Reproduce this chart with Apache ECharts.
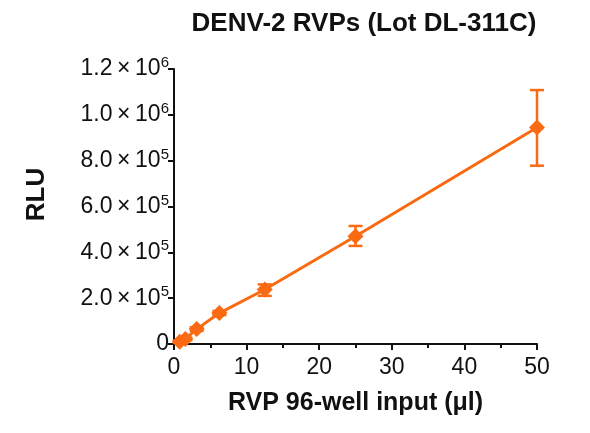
<!DOCTYPE html>
<html>
<head>
<meta charset="utf-8">
<script src="https://cdn.jsdelivr.net/npm/echarts@6/dist/echarts.min.js"></script>
<style>
  html, body { margin: 0; padding: 0; background: #fff; }
  #chart { width: 590px; height: 433px; }
</style>
</head>
<body>
<div id="chart"></div>
<script>
// RVP input volume (ul) and measured luminescence
const inputVolumes = [0.78, 1.56, 3.125, 6.25, 12.5, 25, 50];
const rluMean = [10000, 22000, 65000, 135000, 238000, 470000, 945000];
const rluLow = [6000, 16000, 57000, 126000, 210000, 428000, 778000];
const rluHigh = [14000, 28000, 73000, 144000, 260000, 515000, 1108000];

// y tick labels: value -> [mantissa, exponent]
const yTickValues = [0, 200000, 400000, 600000, 800000, 1000000, 1200000];
const yTickLabels = [['0', ''], ['2.0', '5'], ['4.0', '5'], ['6.0', '5'], ['8.0', '5'], ['1.0', '6'], ['1.2', '6']];
const xTickValues = [0, 10, 20, 30, 40, 50];

const orange = '#fa6a12';
const font = 'Liberation Sans, Arial, sans-serif';

const chart = echarts.init(document.getElementById('chart'));

const pointData = inputVolumes.map((x, i) => [x, rluMean[i]]);
const errData = inputVolumes.map((x, i) => [x, rluLow[i], rluHigh[i]]);

function renderErr(params, api) {
    const lo = api.coord([api.value(0), api.value(1)]);
    const hi = api.coord([api.value(0), api.value(2)]);
    const w = 7;
    const st = { stroke: orange, lineWidth: 2.5 };
    return {
        type: 'group',
        children: [
            { type: 'line', shape: { x1: lo[0], y1: lo[1], x2: hi[0], y2: hi[1] }, style: st },
            { type: 'line', shape: { x1: hi[0] - w, y1: hi[1], x2: hi[0] + w, y2: hi[1] }, style: st },
            { type: 'line', shape: { x1: lo[0] - w, y1: lo[1], x2: lo[0] + w, y2: lo[1] }, style: st }
        ]
    };
}

const option = {
    animation: false,
    title: {
        text: 'DENV-2 RVPs (Lot DL-311C)',
        left: 359,
        textAlign: 'center',
        top: 6,
        textStyle: { fontFamily: font, fontSize: 26, fontWeight: 'bold', color: '#111' }
    },
    grid: { left: 174, right: 53, top: 69, bottom: 89, containLabel: false },
    xAxis: {
        type: 'value',
        min: 0,
        max: 50,
        interval: 10,
        name: 'RVP 96-well input (\u03bcl)',
        nameLocation: 'middle',
        nameGap: 47,
        nameTextStyle: { fontFamily: font, fontSize: 25, fontWeight: 'bold', color: '#111' },
        axisLine: { show: true, onZero: false, lineStyle: { color: '#111', width: 2 } },
        axisTick: { show: true, length: 6, lineStyle: { color: '#111', width: 2 } },
        minorTick: { show: true, splitNumber: 2, length: 4, lineStyle: { color: '#111', width: 2 } },
        splitLine: { show: false },
        axisLabel: {
            margin: 12,
            fontFamily: font, fontSize: 23, color: '#111',
            formatter: v => xTickValues.includes(v) ? String(v) : ''
        }
    },
    yAxis: {
        type: 'value',
        min: 0,
        max: 1200000,
        interval: 200000,
        name: 'RLU',
        nameLocation: 'middle',
        nameGap: 124,
        nameRotate: 90,
        nameTextStyle: { fontFamily: font, fontSize: 26, fontWeight: 'bold', color: '#111', padding: [0, 0, 0, 24] },
        axisLine: { show: true, lineStyle: { color: '#111', width: 2 } },
        axisTick: { show: true, length: 6, lineStyle: { color: '#111', width: 2 } },
        splitLine: { show: false },
        axisLabel: {
            margin: 5,
            fontFamily: font, fontSize: 23, color: '#111',
            formatter: function (v) {
                const i = yTickValues.indexOf(v);
                if (i < 0) return '';
                const [m, e] = yTickLabels[i];
                return e ? '{m|' + m + '\u2009\u00d7\u200910}{e|' + e + '}' : '{m|' + m + '}';
            },
            rich: {
                m: { fontFamily: font, fontSize: 23, color: '#111' },
                e: { fontFamily: font, fontSize: 15, color: '#111', verticalAlign: 'top', padding: [0, 0, 12, 0] }
            }
        }
    },
    series: [
        {
            type: 'custom',
            renderItem: renderErr,
            data: errData,
            encode: { x: 0, y: [1, 2] },
            z: 3
        },
        {
            type: 'line',
            data: pointData,
            symbol: 'diamond',
            symbolSize: 16,
            lineStyle: { color: orange, width: 3 },
            itemStyle: { color: orange },
            z: 4
        }
    ]
};

chart.setOption(option);
</script>
</body>
</html>
